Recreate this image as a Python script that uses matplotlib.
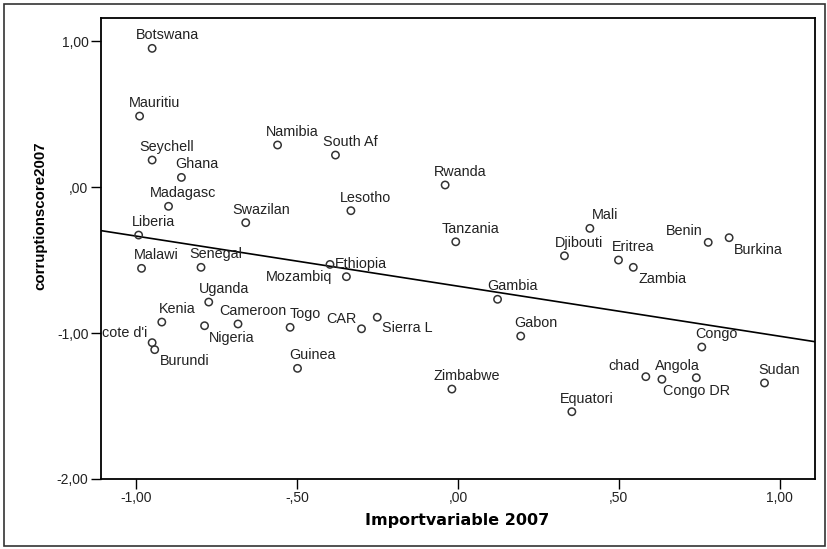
import numpy as np
import matplotlib
matplotlib.use("Agg")
import matplotlib.pyplot as plt
from matplotlib.patches import Rectangle

# country labels as they appear on the chart (SPSS truncated names)
countries = ["Botswana", "Mauritiu", "Seychell", "Ghana", "Madagasc", "Swazilan",
             "Liberia", "Malawi", "Senegal", "Ethiopia", "Namibia", "South Af",
             "Lesotho", "Mozambiq", "Uganda", "Kenia", "Nigeria", "Cameroon",
             "Togo", "CAR", "Sierra L", "cote d'i", "Burundi", "Guinea",
             "Rwanda", "Tanzania", "Mali", "Djibouti", "Eritrea", "Zambia",
             "Benin", "Burkina", "Gambia", "Gabon", "Congo", "chad", "Angola",
             "Congo DR", "Sudan", "Zimbabwe", "Equatori"]
importvar = [-0.951, -0.990, -0.951, -0.860, -0.900, -0.660,
             -0.993, -0.984, -0.799, -0.398, -0.561, -0.381,
             -0.333, -0.347, -0.775, -0.921, -0.788, -0.684,
             -0.522, -0.300, -0.251, -0.951, -0.943, -0.499,
             -0.040, -0.007, 0.410, 0.331, 0.499, 0.545,
             0.778, 0.843, 0.123, 0.195, 0.758, 0.584, 0.634,
             0.741, 0.953, -0.019, 0.354]
corruption = [0.950, 0.486, 0.185, 0.066, -0.132, -0.244,
              -0.329, -0.557, -0.550, -0.530, 0.288, 0.219,
              -0.162, -0.614, -0.788, -0.925, -0.950, -0.938,
              -0.961, -0.971, -0.892, -1.066, -1.114, -1.242,
              0.014, -0.375, -0.283, -0.471, -0.500, -0.550,
              -0.379, -0.347, -0.769, -1.021, -1.096, -1.299, -1.317,
              -1.306, -1.342, -1.384, -1.539]

x_ticks = [-1.0, -0.5, 0.0, 0.5, 1.0]
x_ticklabels = ["-1,00", "-,50", ",00", ",50", "1,00"]
y_ticks = [-2.0, -1.0, 0.0, 1.0]
y_ticklabels = ["-2,00", "-1,00", ",00", "1,00"]

# label placement (offset in pixels, alignment); default is centred above
default_pos = (15, 13, "center", "center")
label_pos = {
    "Ethiopia": (5, 0, "left", "center"),
    "Mozambiq": (-14, 0, "right", "center"),
    "Nigeria": (4, -12, "left", "center"),
    "CAR": (-5, 10, "right", "center"),
    "Sierra L": (5, -11, "left", "center"),
    "cote d'i": (-5, 10, "right", "center"),
    "Burundi": (5, -11, "left", "center"),
    "Zambia": (5, -12, "left", "center"),
    "Benin": (-6, 11, "right", "center"),
    "Burkina": (5, -12, "left", "center"),
    "chad": (-6, 11, "right", "center"),
    "Congo DR": (0, -13, "center", "center"),
}

fig = plt.figure(figsize=(8.28, 5.49), dpi=100)
ax = fig.add_axes([101 / 828, 70 / 549, 714 / 828, 461 / 549])

ax.scatter(importvar, corruption, s=28, facecolors="none", edgecolors="#333333",
           linewidths=1.1, zorder=3)

for name, xv, yv in zip(countries, importvar, corruption):
    dx, dy, ha, va = label_pos.get(name, default_pos)
    ax.annotate(name, (xv, yv), xytext=(dx, dy), textcoords="offset pixels",
                ha=ha, va=va, fontsize=10.4, family="Liberation Sans",
                color="#222222", zorder=4)

# linear fit line across the whole x range
slope, intercept = np.polyfit(importvar, corruption, 1)
xl = np.array([-1.11, 1.11])
ax.plot(xl, intercept + slope * xl, color="black", lw=1.2, zorder=2)

ax.set_xlim(-1.11, 1.11)
ax.set_ylim(-2.0, 1.158)
ax.set_xticks(x_ticks)
ax.set_xticklabels(x_ticklabels)
ax.set_yticks(y_ticks)
ax.set_yticklabels(y_ticklabels)
ax.tick_params(direction="out", length=7, width=1, colors="black",
               labelsize=10, pad=2)
for lab in ax.get_xticklabels() + ax.get_yticklabels():
    lab.set_family("Liberation Sans")
    lab.set_color("#222222")
for sp in ax.spines.values():
    sp.set_linewidth(1.3)

fig.text(457 / 828, 1 - 520 / 549, "Importvariable 2007", ha="center", va="center",
         fontsize=11.5, fontweight="bold", family="DejaVu Sans")
fig.text(40 / 828, 1 - 216 / 549, "corruptionscore2007", ha="center", va="center",
         rotation=90, fontsize=10.8, fontweight="bold", family="Liberation Sans")

# outer chart frame
fig.patches.append(Rectangle((4 / 828, 3 / 549), 821 / 828, 542 / 549,
                             transform=fig.transFigure, fill=False,
                             edgecolor="#333333", lw=1.2))

fig.savefig("out.png", dpi=100)
